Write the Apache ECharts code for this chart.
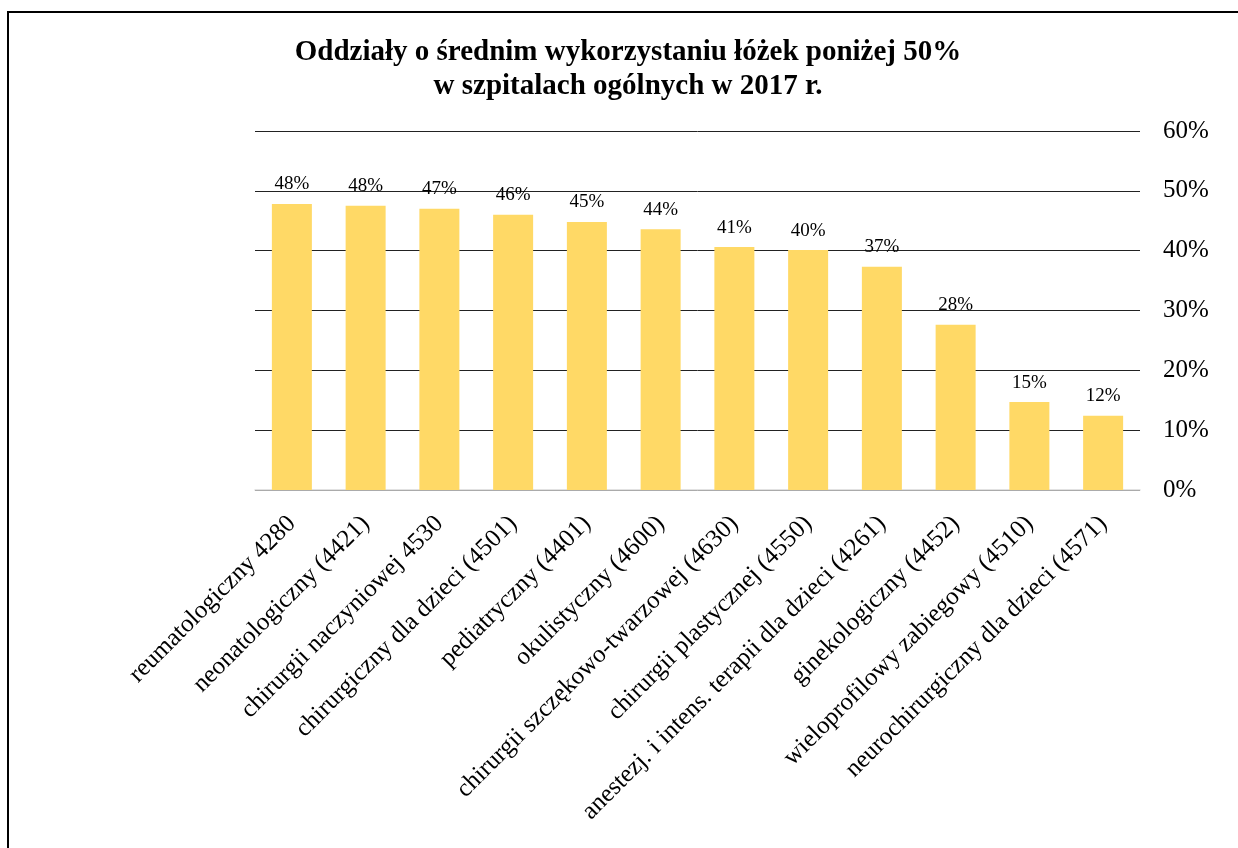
<!DOCTYPE html>
<html>
<head>
<meta charset="utf-8">
<script src="https://cdn.jsdelivr.net/npm/echarts@6/dist/echarts.min.js"></script>
<style>
  html, body { margin: 0; padding: 0; background: #fff; }
  #chart { width: 1238px; height: 848px; }
</style>
</head>
<body>
<div id="chart"></div>
<script>
  // oddziały (kategorie)
  var categories = [
    'reumatologiczny 4280',
    'neonatologiczny (4421)',
    'chirurgii naczyniowej 4530',
    'chirurgiczny dla dzieci (4501)',
    'pediatryczny (4401)',
    'okulistyczny (4600)',
    'chirurgii szczękowo-twarzowej (4630)',
    'chirurgii plastycznej (4550)',
    'anestezj. i intens. terapii dla dzieci (4261)',
    'ginekologiczny (4452)',
    'wieloprofilowy zabiegowy (4510)',
    'neurochirurgiczny dla dzieci (4571)'
  ];
  // średnie wykorzystanie łóżek w %
  var values = [47.8, 47.5, 47.0, 46.0, 44.8, 43.6, 40.6, 40.1, 37.3, 27.6, 14.7, 12.4];
  var yTicks = [0, 10, 20, 30, 40, 50, 60];

  var serif = '"Liberation Serif", "Times New Roman", serif';
  var chart = echarts.init(document.getElementById('chart'));

  chart.setOption({
    animation: false,
    backgroundColor: '#fff',
    title: {
      text: 'Oddziały o średnim wykorzystaniu łóżek poniżej 50%\nw szpitalach ogólnych w 2017 r.',
      left: 623,
      textAlign: 'center',
      top: 31,
      textStyle: {
        fontFamily: serif,
        fontWeight: 'bold',
        fontSize: 29,
        lineHeight: 34,
        color: '#000'
      }
    },
    graphic: [{
      type: 'rect',
      shape: { x: 8, y: 12, width: 1240, height: 850 },
      style: { fill: null, stroke: '#000', lineWidth: 2 }
    }],
    grid: {
      left: 255,
      right: 98,
      top: 131,
      bottom: 358
    },
    xAxis: {
      type: 'category',
      data: categories,
      axisTick: { show: false },
      axisLine: { lineStyle: { color: '#d9d9d9', width: 1.5 } },
      axisLabel: {
        interval: 0,
        rotate: 45,
        margin: 30,
        color: '#000',
        fontFamily: serif,
        fontSize: 25
      }
    },
    yAxis: {
      type: 'value',
      position: 'right',
      min: 0,
      max: 60,
      interval: 10,
      axisLine: { show: false },
      axisTick: { show: false },
      axisLabel: {
        margin: 23,
        color: '#000',
        fontFamily: serif,
        fontSize: 25,
        formatter: function (v) { return yTicks.indexOf(v) >= 0 ? v + '%' : ''; }
      },
      splitLine: { lineStyle: { color: '#222', width: 1 } }
    },
    series: [{
      type: 'bar',
      data: values,
      barWidth: 40,
      itemStyle: { color: '#ffd966' },
      label: {
        show: true,
        position: 'top',
        distance: 10,
        color: '#000',
        fontFamily: serif,
        fontSize: 19,
        formatter: function (p) { return Math.round(p.value) + '%'; }
      }
    }]
  });
</script>
</body>
</html>
